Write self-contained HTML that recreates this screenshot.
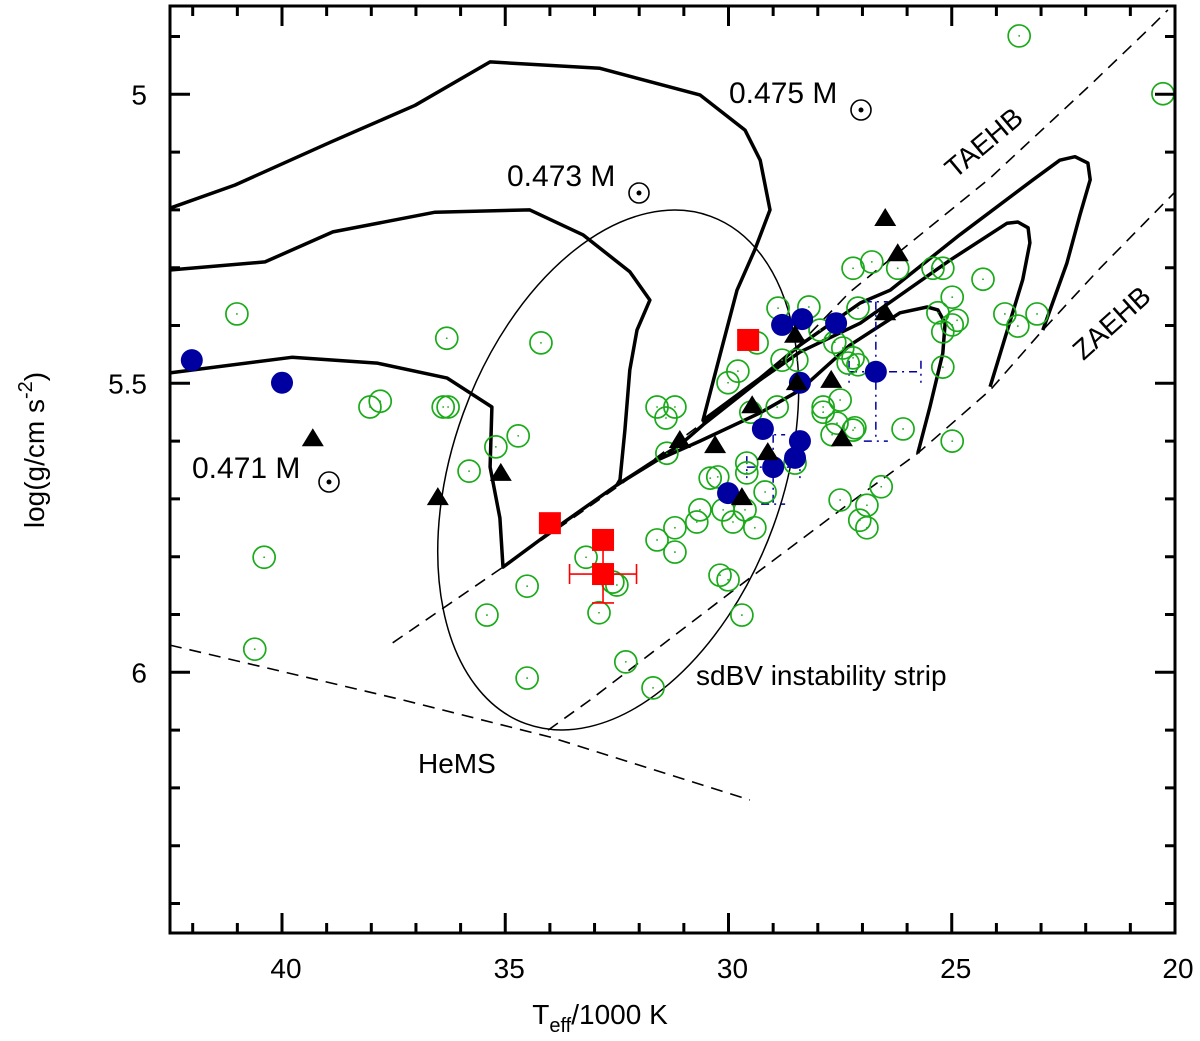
<!DOCTYPE html>
<html><head><meta charset="utf-8"><style>
html,body{margin:0;padding:0;background:#fff;}
svg{display:block;font-family:"Liberation Sans",Arial,sans-serif;}
</style></head><body>
<svg id="chart" width="1200" height="1041" viewBox="0 0 1200 1041" xmlns="http://www.w3.org/2000/svg">
<rect x="0" y="0" width="1200" height="1041" fill="#fff"/>
<g id="lines"></g>
<g id="marks"></g>
<g id="axes"></g>
<g id="labels"></g>
</svg>
<script>
// ---- data (Teff in kK, log g) ----
const greenT = [41.01,36.31,34.20,38.03,37.80,36.39,36.28,34.71,35.21,35.81,40.40,34.51,35.41,40.61,34.51,28.89,28.20,29.36,29.79,30.01,31.60,31.20,31.40,31.38,28.80,28.47,27.95,27.62,27.44,28.91,27.88,27.50,27.88,27.57,27.68,27.21,30.41,30.24,29.59,29.59,29.18,29.63,29.90,29.41,30.12,30.64,30.71,31.20,31.60,31.20,28.51,33.19,32.50,32.59,30.19,30.01,29.70,32.90,32.30,31.69,27.50,27.06,27.21,26.79,26.21,25.42,25.20,24.30,24.99,27.10,25.31,24.88,24.99,25.20,23.81,23.52,23.09,27.21,25.20,26.09,24.99,26.58,26.90,26.90,23.49,20.27,29.50,27.10,27.32,27.17];
const greenG = [5.380,5.422,5.430,5.541,5.531,5.541,5.541,5.591,5.610,5.652,5.801,5.851,5.901,5.960,6.010,5.370,5.368,5.430,5.479,5.499,5.541,5.541,5.560,5.621,5.460,5.460,5.408,5.429,5.439,5.541,5.541,5.529,5.550,5.569,5.589,5.581,5.664,5.662,5.638,5.655,5.688,5.719,5.740,5.750,5.719,5.719,5.740,5.750,5.771,5.792,5.638,5.801,5.849,5.844,5.832,5.840,5.901,5.897,5.982,6.027,5.702,5.737,5.301,5.290,5.301,5.301,5.301,5.320,5.351,5.370,5.378,5.391,5.399,5.411,5.380,5.401,5.380,5.456,5.472,5.579,5.600,5.679,5.711,5.750,4.899,4.999,5.550,5.468,5.465,5.577];
const blueT = [42.02,40.00,28.80,28.35,27.59,26.70,28.40,29.23,28.40,29.00,28.51,30.01];
const blueG = [5.460,5.499,5.399,5.389,5.396,5.480,5.499,5.579,5.600,5.645,5.629,5.690];
const triT = [26.49,26.21,26.49,28.51,27.70,28.47,29.47,31.09,30.30,27.46,29.12,29.70,39.31,35.10,36.51];
const triG = [5.214,5.275,5.377,5.416,5.494,5.498,5.538,5.598,5.607,5.595,5.619,5.697,5.595,5.655,5.697];
const redT = [29.56,34.00,32.81,32.81];
const redG = [5.425,5.742,5.771,5.830];
// blue error bars: [T, g, Tleft, Tright, gTop, gBottom]
const blueErrT = [26.70,29.00];
const blueErrG = [5.480,5.645];
const blueErrTlo = [27.30,29.59];
const blueErrThi = [25.69,28.40];
const blueErrGlo = [5.359,5.589];
const blueErrGhi = [5.600,5.709];
// red error bar
const redErrT = [32.81]; const redErrG = [5.830];
const redErrDT = [0.75]; const redErrDG = [0.05];
// evolutionary tracks
const trk475T = [42.51,41.05,38.92,37.02,35.34,32.88,30.64,29.63,29.29,29.07,29.41,29.81,30.19,30.57,29.29,28.40,27.05,26.38,24.82,23.18,22.58,22.24,21.95,21.90,22.13,22.42,22.96];
const trk475G = [5.197,5.157,5.083,5.019,4.944,4.955,5.001,5.062,5.114,5.200,5.269,5.339,5.451,5.564,5.491,5.434,5.361,5.339,5.243,5.148,5.114,5.108,5.119,5.148,5.209,5.292,5.408];
const trk473T = [42.51,40.38,38.86,36.57,34.45,33.26,32.21,31.76,32.05,32.21,32.32,32.43,32.50,31.60,31.09,30.57,29.29,28.40,27.05,25.04,23.76,23.52,23.29,23.25,23.41,24.14];
const trk473G = [5.304,5.290,5.238,5.204,5.200,5.243,5.307,5.356,5.408,5.477,5.581,5.667,5.676,5.631,5.607,5.572,5.494,5.446,5.396,5.287,5.223,5.221,5.231,5.257,5.321,5.506];
const trk471T = [42.51,39.78,37.87,36.30,35.30,35.34,35.12,35.05,33.77,32.50,31.60,30.64,29.29,28.40,27.28,26.16,25.55,25.31,25.15,25.20,25.49,25.76];
const trk471G = [5.482,5.455,5.465,5.491,5.541,5.645,5.733,5.818,5.745,5.676,5.633,5.600,5.551,5.512,5.434,5.378,5.368,5.373,5.396,5.448,5.541,5.621];
const taehbT = [37.52,35.05,32.43,30.64,28.85,27.28,24.14,21.90,20.56,20.16];
const taehbG = [5.949,5.818,5.676,5.572,5.468,5.342,5.145,4.984,4.885,4.854];
const zaehbT = [34.04,33.10,29.97,27.28,25.76,24.14,22.96,21.68,20.00];
const zaehbG = [6.100,6.048,5.863,5.707,5.621,5.512,5.408,5.301,5.169];
const hemsT = [42.51,37.29,34.00,29.52];
const hemsG = [5.953,6.048,6.112,6.221];
const ellipseCenterT = [32.47]; const ellipseCenterG = [5.650];
const xTicks = [40,35,30,25,20];
const yTicks = [5,5.5,6];

// ---- axes ----
const X0=170, X1=1175, Y0=6, Y1=933;
function sx(t){ return 282 + (40 - t) * 44.65; }
function sy(g){ return 94.3 + (g - 5) * 578; }
const NS="http://www.w3.org/2000/svg";
function mk(tag, attrs, parent){ const e=document.createElementNS(NS,tag); for(const k in attrs) e.setAttribute(k,attrs[k]); parent.appendChild(e); return e; }
const gl=document.getElementById('lines'), gm=document.getElementById('marks'), ga=document.getElementById('axes'), glab=document.getElementById('labels');

function poly(T,G,style,name){
  const d=T.map((t,i)=>(i?'L':'M')+sx(t).toFixed(1)+','+sy(G[i]).toFixed(1)).join(' ');
  const p=mk('path',Object.assign({d:d,fill:'none','stroke-linejoin':'round'},style),gl);
  
  
}
poly(trk475T,trk475G,{stroke:'#000','stroke-width':3.5},'track-0475');
poly(trk473T,trk473G,{stroke:'#000','stroke-width':3.5},'track-0473');
poly(trk471T,trk471G,{stroke:'#000','stroke-width':3.5},'track-0471');
poly(taehbT,taehbG,{stroke:'#000','stroke-width':1.6,'stroke-dasharray':'12 8'},'taehb-line');
poly(zaehbT,zaehbG,{stroke:'#000','stroke-width':1.6,'stroke-dasharray':'12 8'},'zaehb-line');
poly(hemsT,hemsG,{stroke:'#000','stroke-width':1.6,'stroke-dasharray':'12 8'},'hems-line');
const el=mk('ellipse',{cx:sx(ellipseCenterT[0]),cy:sy(ellipseCenterG[0]),rx:165,ry:270,fill:'none',stroke:'#000','stroke-width':1.5,transform:'rotate(20 '+sx(ellipseCenterT[0])+' '+sy(ellipseCenterG[0])+')'},gl);



// blue error bars
blueErrT.forEach((t,i)=>{
  const x=sx(t), y=sy(blueErrG[i]);
  const st={stroke:'#0000a0','stroke-width':1.5,'stroke-dasharray':'8 5 2 5',fill:'none'};
  const xl=sx(blueErrTlo[i]), xr=sx(blueErrThi[i]), yt=sy(blueErrGlo[i]), yb=sy(blueErrGhi[i]);
  const d='M'+x+','+yt+' L'+x+','+yb+' M'+(x-12)+','+yt+' L'+(x+12)+','+yt+' M'+(x-12)+','+yb+' L'+(x+12)+','+yb+
    ' M'+xl+','+y+' L'+xr+','+y+' M'+xr+','+(y-11)+' L'+xr+','+(y+11)+' M'+xl+','+(y-11)+' L'+xl+','+(y+11);
  const p=mk('path',Object.assign({d:d},st),gm);
  
  
});

greenT.forEach((t,i)=>{
  const c=mk('circle',{cx:sx(t),cy:sy(greenG[i]),r:11,fill:'none',stroke:'#1aaa1a','stroke-width':1.7},gm);
  
  
  mk('circle',{cx:sx(t),cy:sy(greenG[i]),r:0.9,fill:'#1aaa1a'},gm);
});
blueT.forEach((t,i)=>{
  const c=mk('circle',{cx:sx(t),cy:sy(blueG[i]),r:11,fill:'#0000a0'},gm);
  
  
});
triT.forEach((t,i)=>{
  const x=sx(t), y=sy(triG[i]);
  const p=mk('polygon',{points:(x-11)+','+(y+8)+' '+(x+11)+','+(y+8)+' '+x+','+(y-10),fill:'#000'},gm);
  
  
});
redErrT.forEach((t,i)=>{
  const x=sx(t), y=sy(redErrG[i]);
  const xl=sx(t+redErrDT[i]), xr=sx(t-redErrDT[i]), yt=sy(redErrG[i]-redErrDG[i]), yb=sy(redErrG[i]+redErrDG[i]);
  const d='M'+xl+','+y+' L'+xr+','+y+' M'+xl+','+(y-10)+' L'+xl+','+(y+10)+' M'+xr+','+(y-10)+' L'+xr+','+(y+10)+
    ' M'+x+','+yt+' L'+x+','+yb+' M'+(x-11)+','+yb+' L'+(x+11)+','+yb;
  const p=mk('path',{d:d,stroke:'#ff0000','stroke-width':1.6,fill:'none'},gm);
  
  
});
redT.forEach((t,i)=>{
  const r=mk('rect',{x:sx(t)-11,y:sy(redG[i])-11,width:22,height:22,fill:'#ff0000'},gm);
  
  
});

// frame & ticks
const fr=mk('rect',{x:X0,y:Y0,width:X1-X0,height:Y1-Y0,fill:'none',stroke:'#000','stroke-width':3},ga);


let td='';
for(let t=20;t<=42;t++){
  const x=sx(t); if(x<X0+2||x>X1-2) continue;
  const L=(t%5===0)?20:10;
  td+='M'+x+','+Y1+' L'+x+','+(Y1-L)+' M'+x+','+Y0+' L'+x+','+(Y0+L)+' ';
}
for(let k=49;k<=64;k++){
  const g=k/10, y=sy(g); if(y<Y0+2||y>Y1-2) continue;
  const L=(k%5===0)?20:10;
  td+='M'+X0+','+y+' L'+(X0+L)+','+y+' M'+X1+','+y+' L'+(X1-L)+','+y+' ';
}
const tk=mk('path',{d:td,stroke:'#000','stroke-width':3,fill:'none'},ga);


xTicks.forEach(t=>{
  const e=mk('text',{x:sx(t)+(t===20?3:4),y:978,'text-anchor':'middle','font-size':28},ga); e.textContent=String(t);
  
  
});
yTicks.forEach(g=>{
  const e=mk('text',{x:147,y:sy(g)+10,'text-anchor':'end','font-size':28},ga); e.textContent=String(g);
  
  
});
</script>
<g></g>
<script>
// static labels
(function(){
const NS="http://www.w3.org/2000/svg";
const lab=document.getElementById('labels');
lab.innerHTML=`
<text x="600" y="1024" text-anchor="middle" font-size="28">T<tspan font-size="20" dy="8">eff</tspan><tspan dy="-8">/1000 K</tspan></text>
<text transform="translate(44,450) rotate(-90)" text-anchor="middle" font-size="28">log(g/cm s<tspan font-size="20" dy="-12">-2</tspan><tspan dy="12">)</tspan></text>
<g><text x="729" y="103" font-size="30">0.475 M</text><circle cx="861" cy="110" r="10" fill="none" stroke="#000" stroke-width="1.6"/><circle cx="861" cy="110" r="2.5" fill="#000"/></g>
<g><text x="507" y="186" font-size="30">0.473 M</text><circle cx="639" cy="193" r="10" fill="none" stroke="#000" stroke-width="1.6"/><circle cx="639" cy="193" r="2.5" fill="#000"/></g>
<g><text x="192" y="478" font-size="30">0.471 M</text><circle cx="329" cy="482" r="10" fill="none" stroke="#000" stroke-width="1.6"/><circle cx="329" cy="482" r="2.5" fill="#000"/></g>
<text transform="translate(990,150) rotate(-40)" text-anchor="middle" font-size="28">TAEHB</text>
<text transform="translate(1118,330) rotate(-42)" text-anchor="middle" font-size="28">ZAEHB</text>
<text x="696" y="685" font-size="28">sdBV instability strip</text>
<text x="418" y="773" font-size="28">HeMS</text>`;
})();
</script>
</body></html>
